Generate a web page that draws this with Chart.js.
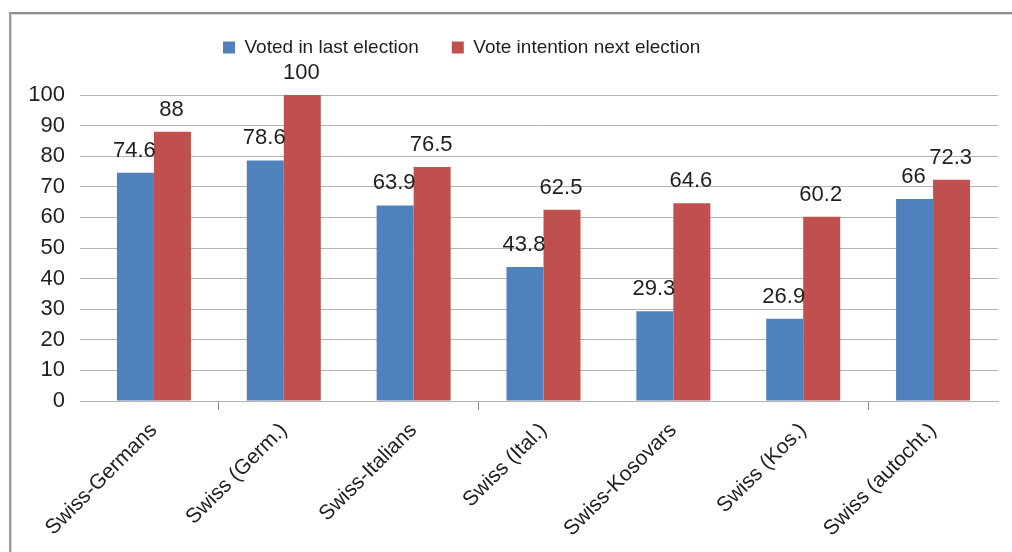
<!DOCTYPE html>
<html>
<head>
<meta charset="utf-8">
<script src="https://cdn.jsdelivr.net/npm/chart.js@4/dist/chart.umd.min.js"></script>
<style>
  html, body { margin: 0; padding: 0; background: #fff; }
  #wrap { position: relative; width: 1012px; height: 552px; overflow: hidden; }
  #frame {
    position: absolute; left: 9px; top: 12px; right: -4px; bottom: -4px;
    border-top: 2px solid #8e8e8e; border-left: 2px solid #9a9a9a;
    box-shadow: inset 1px 1px 0 #d6d6d6;
  }
  canvas { position: absolute; left: 0; top: 0; }
</style>
</head>
<body>
<div id="wrap">
  <div id="frame"></div>
  <canvas id="turnout" width="1012" height="552"></canvas>
</div>
<script>
const groups = [
  "Swiss-Germans",
  "Swiss (Germ.)",
  "Swiss-Italians",
  "Swiss (Ital.)",
  "Swiss-Kosovars",
  "Swiss (Kos.)",
  "Swiss (autocht.)",
];
const votedLast = [74.6, 78.6, 63.9, 43.8, 29.3, 26.9, 66];
const intentionNext = [88, 100, 76.5, 62.5, 64.6, 60.2, 72.3];
const yTicks = [0, 10, 20, 30, 40, 50, 60, 70, 80, 90, 100];

const FONT = '"Liberation Sans", Arial, sans-serif';
const TEXT = "#1f1f1f";
const GRID = "#b4b4b4";
// category boundaries that carry a tick mark on the x axis
const markedBoundaries = [1, 3, 6];

// value printed above every bar
const barValueLabels = {
  id: "barValueLabels",
  afterDatasetsDraw(chart) {
    const ctx = chart.ctx;
    ctx.save();
    ctx.font = "22px " + FONT;
    ctx.fillStyle = TEXT;
    ctx.textAlign = "center";
    ctx.textBaseline = "alphabetic";
    chart.data.datasets.forEach((ds, i) => {
      chart.getDatasetMeta(i).data.forEach((bar, j) => {
        ctx.fillText(String(ds.data[j]), bar.x - 1, bar.y - 16);
      });
    });
    ctx.restore();
  },
};

// legend sits a bit left of centre and higher than the default box
const legendPlacement = {
  id: "legendPlacement",
  afterLayout(chart) {
    const lg = chart.legend;
    const dx = 190 - lg.left;
    const dy = 5 - lg.top;
    lg.left += dx; lg.right += dx;
    lg.top += dy; lg.bottom += dy;
  },
};

let turnoutChart = null;
const makeTurnoutChart = () => {
  if (turnoutChart) turnoutChart.destroy();
  const el = document.getElementById("turnout").getContext("2d");

  const data = {
    labels: groups,
    datasets: [
      {
        label: "Voted in last election",
        data: votedLast,
        backgroundColor: "#4f81bd",
        borderWidth: 0,
        categoryPercentage: 0.57,
        barPercentage: 1,
      },
      {
        label: "Vote intention next election",
        data: intentionNext,
        backgroundColor: "#c0504d",
        borderWidth: 0,
        categoryPercentage: 0.57,
        barPercentage: 1,
      },
    ],
  };

  const config = {
    type: "bar",
    data: data,
    plugins: [barValueLabels, legendPlacement],
    options: {
      responsive: false,
      animation: false,
      layout: { padding: { top: 33, right: 14, bottom: 0, left: 0 } },
      plugins: {
        tooltip: { enabled: false },
        legend: {
          display: true,
          position: "top",
          align: "start",
          labels: {
            boxWidth: 12,
            boxHeight: 12,
            padding: 33,
            color: TEXT,
            font: { family: FONT, size: 19 },
          },
        },
      },
      scales: {
        x: {
          offset: true,
          border: { display: true, color: GRID, width: 1 },
          grid: {
            offset: true,
            drawOnChartArea: false,
            drawTicks: true,
            tickLength: 9,
            color: (c) => (markedBoundaries.includes(c.index) ? "#8c8c8c" : "rgba(0,0,0,0)"),
          },
          ticks: {
            color: TEXT,
            font: { family: FONT, size: 21 },
            maxRotation: 45,
            minRotation: 45,
            padding: 8,
          },
          afterFit: (scale) => { scale.height = 151; },
        },
        y: {
          min: 0,
          max: 100,
          border: { display: false },
          grid: { color: GRID, lineWidth: 1, tickLength: 9 },
          afterBuildTicks: (scale) => { scale.ticks = yTicks.map((v) => ({ value: v })); },
          ticks: {
            color: TEXT,
            font: { family: FONT, size: 22 },
            padding: 15,
          },
          afterFit: (scale) => { scale.width = 89; },
        },
      },
    },
  };

  turnoutChart = new Chart(el, config);
};

makeTurnoutChart();
</script>
</body>
</html>
